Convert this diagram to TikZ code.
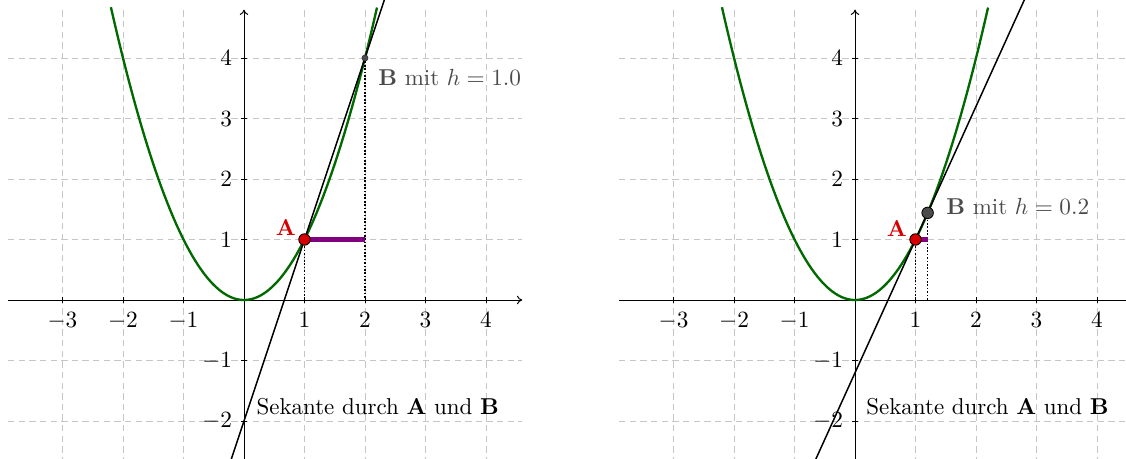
\documentclass[tikz,border=0pt]{standalone}
\usetikzlibrary{arrows.meta}
\definecolor{pgreen}{RGB}{0,105,0}
\definecolor{ppurple}{RGB}{128,0,128}
\definecolor{pred}{RGB}{215,0,0}
\definecolor{bgray}{RGB}{75,75,75}
\begin{document}
\begin{tikzpicture}[x=1cm,y=1cm,
  every node/.style={font=\fontsize{10.8pt}{13pt}\selectfont},
  gridline/.style={gray!45, dash pattern=on 3pt off 2pt, line width=0.45pt},
  axisline/.style={black, line width=0.45pt, -{To[length=2.5pt,width=4pt]}},
  tickline/.style={black, line width=0.35pt},
  parab/.style={pgreen, line width=1.1pt},
  secant/.style={black, line width=0.7pt},
  drop/.style={black, dash pattern=on 0.8pt off 0.8pt, line width=0.75pt},
  hseg/.style={ppurple, line width=2pt},
  ptA/.style={circle, fill=pred, draw=black, line width=0.4pt, inner sep=0pt, minimum size=0.19cm},
  ptBsmall/.style={circle, fill=bgray, draw=black!80, line width=0.3pt, inner sep=0pt, minimum size=0.1cm},
  ptBbig/.style={circle, fill=bgray, draw=black, line width=0.4pt, inner sep=0pt, minimum size=0.19cm},
  labA/.style={text=pred, font=\fontsize{10.8pt}{13pt}\selectfont\bfseries},
  labB/.style={text=bgray},
  ticklab/.style={inner sep=2pt}
]
\useasboundingbox (-4.033,-2.628) rectangle (14.579,4.959);
\clip (-4.033,-2.628) rectangle (14.579,4.959);

% ---------------- left panel ----------------
\begin{scope}
  \foreach \x in {-3,...,4} \draw[gridline] (\x,-2.7) -- (\x,4.8);
  \foreach \y in {-2,...,4} \draw[gridline] (-3.9,\y) -- (4.6,\y);
  \draw[axisline] (-3.9,0) -- (4.6,0);
  \draw[axisline] (0,-2.7) -- (0,4.8);
  \foreach \x in {-3,-2,-1,1,2,3,4} {
    \draw[tickline] (\x,-0.05) -- (\x,0.05);
    \node[ticklab, anchor=north] at (\x,-0.13) {$\x$};
  }
  \foreach \y in {-2,-1,1,2,3,4} {
    \draw[tickline] (-0.05,\y) -- (0.05,\y);
    \node[ticklab, anchor=east] at (-0.12,\y) {$\y$};
  }
  \draw[parab, domain=-2.2:2.2, samples=90] plot (\x,{\x*\x});
  \coordinate (lAc) at (1,1);
  \coordinate (lBc) at (2,4);
  \coordinate (lA0) at (1,0);
  \coordinate (lB0) at (2,0);
  \coordinate (lH) at (2,1);
  \coordinate (lS1) at (-0.23,-2.69);
  \coordinate (lS2) at (2.34,5.02);
  \draw[secant] (lS1) -- (lS2);
  \draw[drop] (lAc) -- (lA0);
  \draw[drop] (lBc) -- (lB0);
  \draw[hseg] (lAc) -- (lH);
  \node[ptA] (lA) at (lAc) {};
  \node[ptBsmall] (lB) at (lBc) {};
  \node[labA] (lAl) at (0.69,1.2) {A};
  \node[labB] (lBl) at (3.40,3.67) {\textbf{B} mit $h=1.0$};
  \node (lS) at (2.21,-1.77) {Sekante durch \textbf{A} und \textbf{B}};
\end{scope}

% ---------------- right panel ----------------
\begin{scope}[xshift=10.1cm]
  \foreach \x in {-3,...,4} \draw[gridline] (\x,-2.7) -- (\x,4.8);
  \foreach \y in {-2,...,4} \draw[gridline] (-3.9,\y) -- (4.6,\y);
  \draw[axisline] (-3.9,0) -- (4.6,0);
  \draw[axisline] (0,-2.7) -- (0,4.8);
  \foreach \x in {-3,-2,-1,1,2,3,4} {
    \draw[tickline] (\x,-0.05) -- (\x,0.05);
    \node[ticklab, anchor=north] at (\x,-0.13) {$\x$};
  }
  \foreach \y in {-2,-1,1,2,3,4} {
    \draw[tickline] (-0.05,\y) -- (0.05,\y);
    \node[ticklab, anchor=east] at (-0.12,\y) {$\y$};
  }
  \draw[parab, domain=-2.2:2.2, samples=90] plot (\x,{\x*\x});
  \coordinate (rAc) at (1,1);
  \coordinate (rBc) at (1.2,1.44);
  \coordinate (rA0) at (1,0);
  \coordinate (rB0) at (1.2,0);
  \coordinate (rH) at (1.2,1);
  \coordinate (rS1) at (-0.68,-2.70);
  \coordinate (rS2) at (2.83,5.03);
  \draw[secant] (rS1) -- (rS2);
  \draw[drop] (rAc) -- (rA0);
  \draw[drop] (rBc) -- (rB0);
  \draw[hseg] (rAc) -- (rH);
  \node[ptA] (rA) at (rAc) {};
  \node[ptBbig] (rB) at (rBc) {};
  \node[labA] (rAl) at (0.69,1.18) {A};
  \node[labB] (rBl) at (2.69,1.54) {\textbf{B} mit $h=0.2$};
  \node (rS) at (2.19,-1.77) {Sekante durch \textbf{A} und \textbf{B}};
\end{scope}
\end{tikzpicture}
\end{document}
